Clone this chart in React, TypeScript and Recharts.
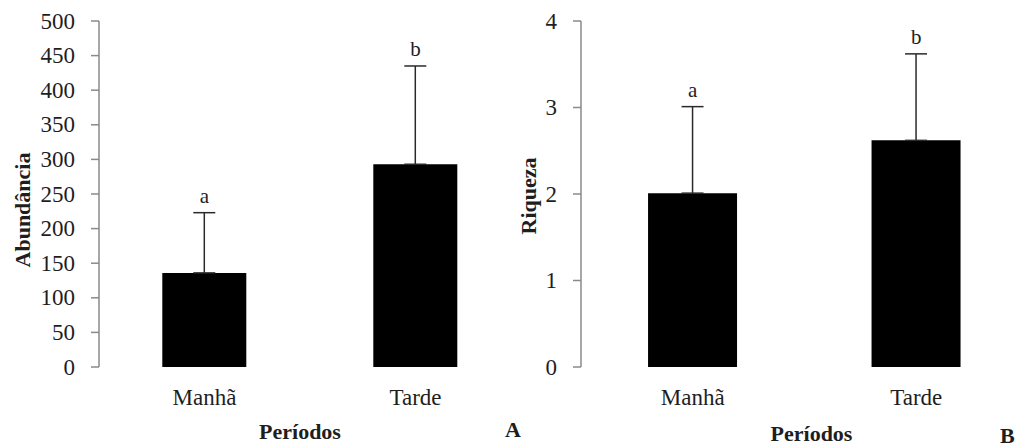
import React from 'react';
import { BarChart, Bar, XAxis, YAxis, ErrorBar, ReferenceDot } from 'recharts';

const periodos = ['Manhã', 'Tarde'];
const abundanciaMedia = [136, 293];
const abundanciaDP = [87, 142];
const abundanciaLetras = ['a', 'b'];
const abundanciaTicks = [0, 50, 100, 150, 200, 250, 300, 350, 400, 450, 500];
const riquezaMedia = [2.01, 2.62];
const riquezaDP = [1.0, 1.0];
const riquezaLetras = ['a', 'b'];
const riquezaTicks = [0, 1, 2, 3, 4];
const limitesCategorias = [0, 1, 2];

const FONT = 'Liberation Serif';
const AXIS = '#8a8a8a';
const TXT = '#1e1e1e';

function YTick(props: any) {
  const { x, y, payload } = props;
  return (
    <text x={x} y={y} textAnchor="end" dominantBaseline="central" fontFamily={FONT} fontSize={23} fill={TXT}>
      {payload.value}
    </text>
  );
}

function XTick(props: any) {
  const { x, y, payload } = props;
  return (
    <text x={x} y={y} dy={26} textAnchor="middle" fontFamily={FONT} fontSize={23} fill={TXT}>
      {payload.value}
    </text>
  );
}

type PanelProps = {
  width: number;
  yWidth: number;
  marginRight: number;
  values: number[];
  errors: number[];
  letters: string[];
  yTicks: number[];
  yTitle: string;
  yTitleX: number;
  yTitleDy: number;
  xTitleDx: number;
  xTitleY: number;
};

function Panel(p: PanelProps) {
  const data = periodos.map((periodo, i) => ({
    periodo,
    media: p.values[i],
    erro: [0, p.errors[i]],
    topo: p.values[i] + p.errors[i],
    letra: p.letters[i],
  }));
  const yMax = p.yTicks[p.yTicks.length - 1];
  return (
    <BarChart
      width={p.width}
      height={447}
      data={data}
      margin={{ top: 21, right: p.marginRight, bottom: 0, left: 0 }}
      barCategoryGap="30%"
    >
      <XAxis
        xAxisId="lim"
        type="number"
        domain={[0, 2]}
        ticks={limitesCategorias}
        allowDataOverflow
        height={0}
        tick={false}
        tickSize={8}
        axisLine={{ stroke: AXIS, strokeWidth: 1.5 }}
        tickLine={{ stroke: AXIS, strokeWidth: 1.5 }}
      />
      <XAxis
        xAxisId="cat"
        dataKey="periodo"
        height={80}
        axisLine={false}
        tickLine={false}
        tickSize={8}
        tickMargin={4}
        tick={<XTick />}
        label={{
          value: 'Períodos',
          content: (props: any) => {
            const vb = props.viewBox || {};
            return (
              <text
                x={vb.x + vb.width / 2 + p.xTitleDx}
                y={p.xTitleY}
                textAnchor="middle"
                fontFamily={FONT}
                fontSize={22}
                fontWeight="bold"
                fill={TXT}
              >
                Períodos
              </text>
            );
          },
        }}
      />
      <YAxis
        domain={[0, yMax]}
        ticks={p.yTicks}
        interval={0}
        width={p.yWidth}
        tickSize={8}
        tickMargin={16}
        axisLine={{ stroke: AXIS, strokeWidth: 1.5 }}
        tickLine={{ stroke: AXIS, strokeWidth: 1.5 }}
        tick={<YTick />}
        label={{
          value: p.yTitle,
          content: (props: any) => {
            const vb = props.viewBox || {};
            const cx = p.yTitleX;
            const cy = vb.y + vb.height / 2 + p.yTitleDy;
            return (
              <text
                x={cx}
                y={cy}
                transform={`rotate(-90, ${cx}, ${cy})`}
                textAnchor="middle"
                dominantBaseline="central"
                fontFamily={FONT}
                fontSize={22}
                fontWeight="bold"
                fill={TXT}
              >
                {p.yTitle}
              </text>
            );
          },
        }}
      />
      <Bar xAxisId="cat" dataKey="media" fill="#000" isAnimationActive={false}>
        <ErrorBar dataKey="erro" width={11} stroke="#2a2a2a" strokeWidth={1.5} isAnimationActive={false} />
      </Bar>
      {data.map((d) => (
        <ReferenceDot
          key={d.periodo}
          xAxisId="cat"
          x={d.periodo}
          y={d.topo}
          r={0}
          fill="none"
          stroke="none"
          ifOverflow="visible"
          label={{ value: d.letra, position: 'top', offset: 10, fill: TXT, fontSize: 21, fontFamily: FONT }}
        />
      ))}
    </BarChart>
  );
}

const letterStyle: React.CSSProperties = {
  position: 'absolute',
  fontFamily: FONT,
  fontWeight: 'bold',
  fontSize: 22,
  color: TXT,
  lineHeight: 1,
};

export default function App() {
  return (
    <div style={{ position: 'absolute', left: 0, top: 0, width: 1028, height: 447, background: '#fff', overflow: 'hidden' }}>
      <div style={{ position: 'absolute', left: 0, top: 0 }}>
        <Panel
          width={530}
          yWidth={99}
          marginRight={9}
          values={abundanciaMedia}
          errors={abundanciaDP}
          letters={abundanciaLetras}
          yTicks={abundanciaTicks}
          yTitle="Abundância"
          yTitleX={22}
          yTitleDy={16}
          xTitleDx={-10}
          xTitleY={439}
        />
      </div>
      <div style={{ position: 'absolute', left: 500, top: 0 }}>
        <Panel
          width={528}
          yWidth={81}
          marginRight={0}
          values={riquezaMedia}
          errors={riquezaDP}
          letters={riquezaLetras}
          yTicks={riquezaTicks}
          yTitle="Riqueza"
          yTitleX={28}
          yTitleDy={2}
          xTitleDx={7}
          xTitleY={441}
        />
      </div>
      <span style={{ ...letterStyle, left: 505, top: 419 }}>A</span>
      <span style={{ ...letterStyle, left: 1000, top: 425 }}>B</span>
    </div>
  );
}
